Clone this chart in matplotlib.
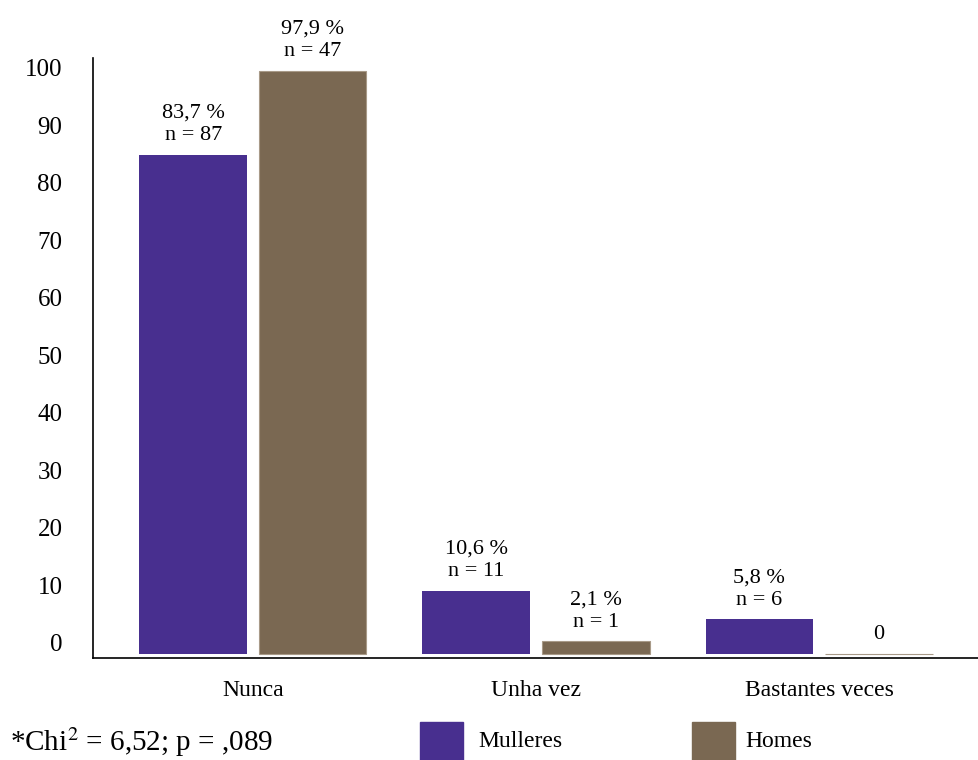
import numpy as np
import matplotlib
matplotlib.use("Agg")
import matplotlib.pyplot as plt
from matplotlib.patches import Rectangle
from matplotlib.transforms import ScaledTranslation

plt.rcParams['font.family'] = ['Liberation Serif', 'DejaVu Serif']
plt.rcParams['mathtext.fontset'] = 'stix'

categories = ['Nunca', 'Unha vez', 'Bastantes veces']
mulleres = [83.7, 10.6, 5.8]
homes = [97.9, 2.1, 0]
mulleres_lab = ['83,7 %\nn = 87', '10,6 %\nn = 11', '5,8 %\nn = 6']
homes_lab = ['97,9 %\nn = 47', '2,1 %\nn = 1', '0']
yticks = [0, 10, 20, 30, 40, 50, 60, 70, 80, 90, 100]

c_m = '#482f8f'
c_h = '#7a6852'

fig = plt.figure(figsize=(9.79, 7.6), dpi=100)
ax = fig.add_axes([0.095, 0.1342, 0.905, 0.7895])

x = np.arange(len(categories))
w = 0.38
off = 0.211
b1 = ax.bar(x - off, mulleres, w, color=c_m, linewidth=0)
b2 = ax.bar(x + off, homes, w, color=c_h, edgecolor='#a89a88', linewidth=0.8)

for bars, labs in [(b1, mulleres_lab), (b2, homes_lab)]:
    for r, t in zip(bars, labs):
        ax.annotate(t, (r.get_x() + r.get_width() / 2, r.get_height()),
                    xytext=(0, 7), textcoords='offset points',
                    ha='center', va='bottom', fontsize=16, linespacing=1.25)

ax.set_xlim(-0.565, 2.565)
ax.set_ylim(-0.7, 100)
ax.set_yticks(yticks)
ax.set_xticks(x)
ax.set_xticklabels(categories, fontsize=17)
ax.tick_params(axis='y', length=0, labelsize=18, pad=22)
ax.tick_params(axis='x', length=0, pad=16)
for s in ['top', 'right']:
    ax.spines[s].set_visible(False)
ax.spines['left'].set_linewidth(1.2)
ax.spines['bottom'].set_linewidth(1.2)

# the y labels in the original sit a little compressed towards the middle
fig.canvas.draw()
for v, lab in zip(yticks, ax.get_yticklabels()):
    dy = (11 - 0.21 * v) / 100
    lab.set_transform(lab.get_transform() + ScaledTranslation(0, dy, fig.dpi_scale_trans))

fig.text(0.01, 0.024, r"*Chi$^2$ = 6,52; p = ,089", fontsize=21, va='center')

fig.add_artist(Rectangle((420 / 979, 0.0), 43 / 979, 38 / 760,
                         transform=fig.transFigure, color=c_m))
fig.text(478 / 979, 0.024, 'Mulleres', fontsize=17, va='center')
fig.add_artist(Rectangle((692 / 979, 0.0), 43 / 979, 38 / 760,
                         transform=fig.transFigure, color=c_h))
fig.text(745 / 979, 0.024, 'Homes', fontsize=17, va='center')

fig.savefig('out.png', dpi=100)
